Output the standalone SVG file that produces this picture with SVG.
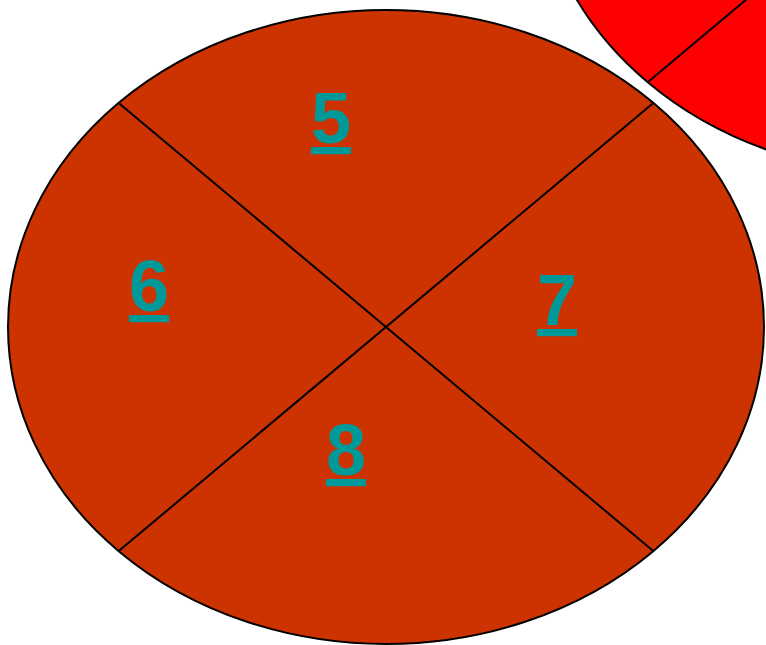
<svg xmlns="http://www.w3.org/2000/svg" width="766" height="645" viewBox="0 0 766 645">
<style>
.pie{stroke:#000;stroke-width:2}
.div{stroke:#000;stroke-width:2;fill:none}
.lbl{font-family:"Liberation Sans",Arial,sans-serif;font-size:72px;font-weight:bold;fill:#009999;text-anchor:middle;text-decoration:underline}
</style>
<rect width="766" height="645" fill="#fff"/>
<g id="red-pie">
<ellipse class="pie" cx="915" cy="-142" rx="378" ry="317" fill="#FF0000"/>
<line class="div" x1="647.7" y1="82.2" x2="1182.3" y2="-366.2"/>
</g>
<g id="main-pie">
<ellipse class="pie" cx="386" cy="327" rx="378" ry="317" fill="#CC3300"/>
</g>
<g id="connectors">
<line class="div" x1="118.7" y1="102.9" x2="653.3" y2="551.1"/>
<line class="div" x1="653.3" y1="102.9" x2="118.7" y2="551.1"/>
</g>
<g id="seg5"><text class="lbl" x="331" y="143">5</text></g>
<g id="seg6"><text class="lbl" x="149" y="311">6</text></g>
<g id="seg7"><text class="lbl" x="557" y="325">7</text></g>
<g id="seg8"><text class="lbl" x="346" y="475">8</text></g>
</svg>
